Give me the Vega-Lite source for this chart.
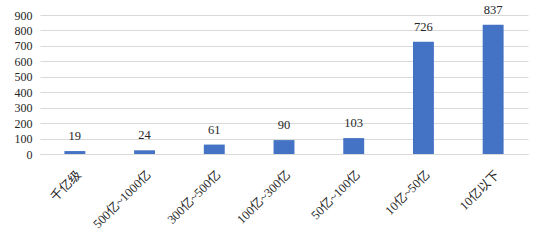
{
  "$schema": "https://vega.github.io/schema/vega-lite/v6.json",
  "width": 488,
  "height": 139,
  "autosize": {"type": "none"},
  "padding": {"left": 40, "top": 15, "right": 16, "bottom": 92},
  "background": "white",
  "config": {
    "view": {"stroke": null},
    "font": "Liberation Serif",
    "axis": {"labelFont": "Liberation Serif, Noto Sans CJK SC", "labelColor": "#262626", "labelFontSize": 12.5}
  },
  "data": {
    "values": [
      {"cat": "千亿级", "v": 19},
      {"cat": "500亿~1000亿", "v": 24},
      {"cat": "300亿~500亿", "v": 61},
      {"cat": "100亿~300亿", "v": 90},
      {"cat": "50亿~100亿", "v": 103},
      {"cat": "10亿~50亿", "v": 726},
      {"cat": "10亿以下", "v": 837}
    ]
  },
  "encoding": {
    "x": {
      "field": "cat", "type": "nominal", "sort": null,
      "scale": {"paddingInner": 0.7, "paddingOuter": 0.35},
      "axis": {"title": null, "labelAngle": -45, "labelAlign": "right", "labelBaseline": "top", "ticks": false, "domainColor": "#d9d9d9", "labelPadding": 14, "grid": false}
    },
    "y": {
      "field": "v", "type": "quantitative",
      "scale": {"domain": [0, 900]},
      "axis": {"title": null, "values": [0,100,200,300,400,500,600,700,800,900], "domain": false, "ticks": false, "gridColor": "#d9d9d9", "labelPadding": 8, "labelFontSize": 12}
    }
  },
  "layer": [
    {"mark": {"type": "bar", "color": "#4472C4"}},
    {"mark": {"type": "text", "dy": -15, "fontSize": 12.5, "color": "#262626", "font": "Liberation Serif"}, "encoding": {"text": {"field": "v"}}}
  ]
}
